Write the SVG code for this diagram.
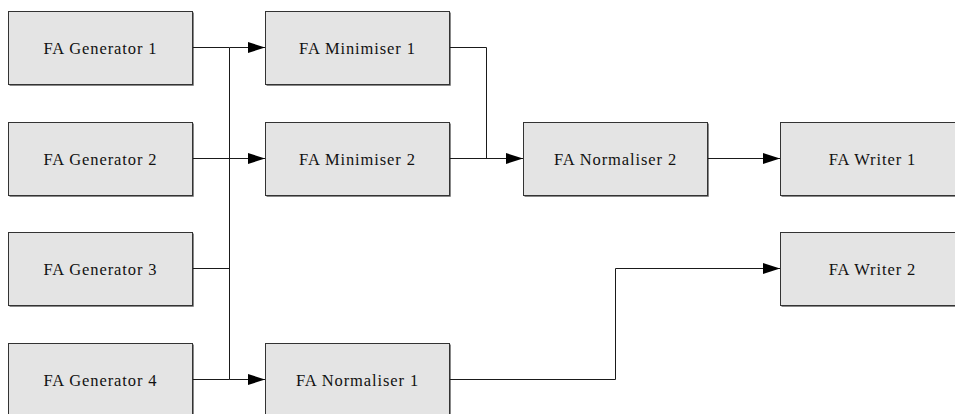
<svg xmlns="http://www.w3.org/2000/svg" width="955" height="414" viewBox="0 0 955 414">
  <style>
    .box { fill: #e4e4e4; stroke: #333; stroke-width: 1; }
    .shadow { fill: none; stroke: #888; stroke-width: 1; }
    .label { font-family: 'Liberation Serif', 'DejaVu Serif', serif; font-size: 16.5px; letter-spacing: 0.9px; fill: #111; text-anchor: middle; }
    .edge { fill: none; stroke: #1a1a1a; stroke-width: 1; }
  </style>
  <defs>
    <marker id="arrow" viewBox="0 0 17 11" refX="17" refY="5.5" markerWidth="17" markerHeight="11" markerUnits="userSpaceOnUse" orient="auto">
      <path d="M0,0 L17,5.5 L0,11 Z" fill="#000"/>
    </marker>
  </defs>

  <rect width="955" height="414" fill="#fff"/>

  <!-- stage 1: generators -->
  <g id="gen1">
    <path class="shadow" d="M9.5,85.5 H193.5 V12.5"/>
    <rect class="box" x="8.5" y="11.5" width="184" height="73"/>
    <text class="label" x="100.5" y="53.5" font-family="Liberation Serif, serif">FA Generator 1</text>
  </g>
  <g id="gen2">
    <path class="shadow" d="M9.5,196.5 H193.5 V123.5"/>
    <rect class="box" x="8.5" y="122.5" width="184" height="73"/>
    <text class="label" x="100.5" y="164.5" font-family="Liberation Serif, serif">FA Generator 2</text>
  </g>
  <g id="gen3">
    <path class="shadow" d="M9.5,306.5 H193.5 V233.5"/>
    <rect class="box" x="8.5" y="232.5" width="184" height="73"/>
    <text class="label" x="100.5" y="274.5" font-family="Liberation Serif, serif">FA Generator 3</text>
  </g>
  <g id="gen4">
    <path class="shadow" d="M9.5,417.5 H193.5 V344.5"/>
    <rect class="box" x="8.5" y="343.5" width="184" height="73"/>
    <text class="label" x="100.5" y="385.5" font-family="Liberation Serif, serif">FA Generator 4</text>
  </g>

  <!-- stage 2 -->
  <g id="min1">
    <path class="shadow" d="M266.5,85.5 H450.5 V12.5"/>
    <rect class="box" x="265.5" y="11.5" width="184" height="73"/>
    <text class="label" x="357.5" y="53.5" font-family="Liberation Serif, serif">FA Minimiser 1</text>
  </g>
  <g id="min2">
    <path class="shadow" d="M266.5,196.5 H450.5 V123.5"/>
    <rect class="box" x="265.5" y="122.5" width="184" height="73"/>
    <text class="label" x="357.5" y="164.5" font-family="Liberation Serif, serif">FA Minimiser 2</text>
  </g>
  <g id="norm1">
    <path class="shadow" d="M266.5,417.5 H450.5 V344.5"/>
    <rect class="box" x="265.5" y="343.5" width="184" height="73"/>
    <text class="label" x="357.5" y="385.5" font-family="Liberation Serif, serif">FA Normaliser 1</text>
  </g>

  <!-- stage 3 -->
  <g id="norm2">
    <path class="shadow" d="M524.5,196.5 H708.5 V123.5"/>
    <rect class="box" x="523.5" y="122.5" width="184" height="73"/>
    <text class="label" x="615.5" y="164.5" font-family="Liberation Serif, serif">FA Normaliser 2</text>
  </g>

  <!-- stage 4: writers -->
  <g id="writer1">
    <path class="shadow" d="M781.5,196.5 H965.5 V123.5"/>
    <rect class="box" x="780.5" y="122.5" width="184" height="73"/>
    <text class="label" x="872.5" y="164.5" font-family="Liberation Serif, serif">FA Writer 1</text>
  </g>
  <g id="writer2">
    <path class="shadow" d="M781.5,306.5 H965.5 V233.5"/>
    <rect class="box" x="780.5" y="232.5" width="184" height="73"/>
    <text class="label" x="872.5" y="274.5" font-family="Liberation Serif, serif">FA Writer 2</text>
  </g>

  <!-- connectors -->
  <g id="edges">
    <!-- generator outputs joined on a shared bus -->
    <path class="edge" d="M193,47.5 H229.5"/>
    <path class="edge" d="M193,158.5 H229.5"/>
    <path class="edge" d="M193,268.5 H229.5"/>
    <path class="edge" d="M193,379.5 H229.5"/>
    <path class="edge" d="M229.5,47.5 V379.5"/>
    <path class="edge" d="M229.5,47.5 H265" marker-end="url(#arrow)"/>
    <path class="edge" d="M229.5,158.5 H265" marker-end="url(#arrow)"/>
    <path class="edge" d="M229.5,379.5 H265" marker-end="url(#arrow)"/>
    <!-- minimisers into normaliser 2 -->
    <path class="edge" d="M450,47.5 H486.5 V158.5"/>
    <path class="edge" d="M450,158.5 H523" marker-end="url(#arrow)"/>
    <!-- normaliser 2 into writer 1 -->
    <path class="edge" d="M708,158.5 H780" marker-end="url(#arrow)"/>
    <!-- normaliser 1 into writer 2 -->
    <path class="edge" d="M450,379.5 H615.5 V268.5 H780" marker-end="url(#arrow)"/>
  </g>
</svg>
